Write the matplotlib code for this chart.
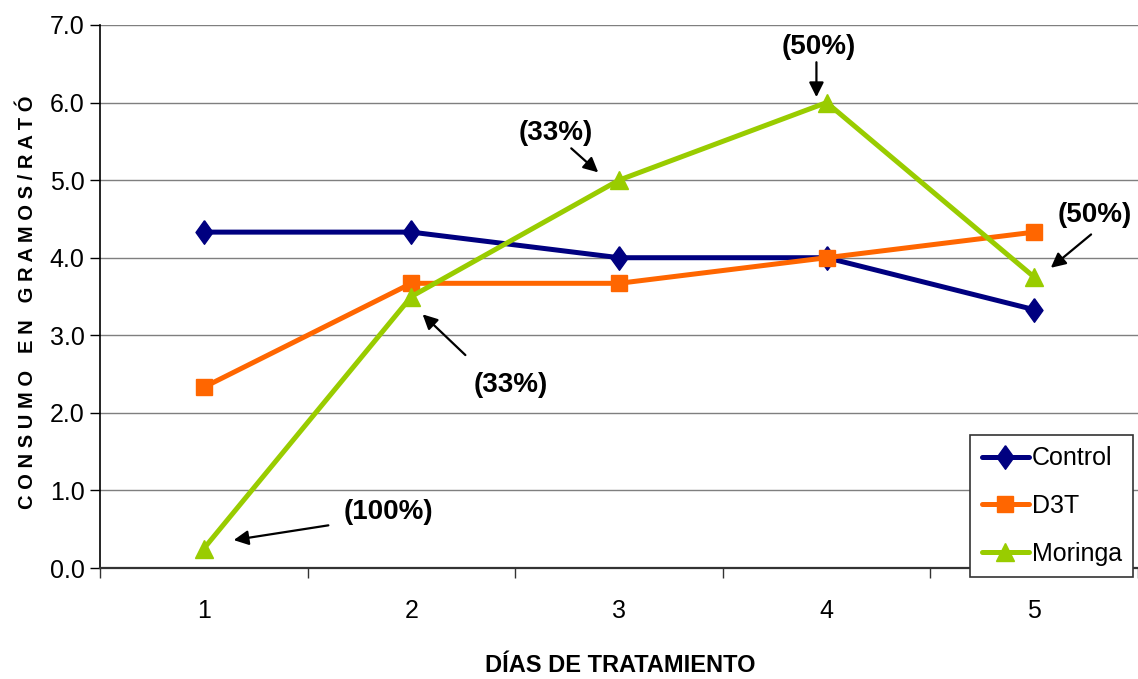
import matplotlib
matplotlib.use("Agg")
import matplotlib.pyplot as plt
from matplotlib.ticker import FixedLocator, FormatStrFormatter

# Consumption data per treatment day
dias = [1, 2, 3, 4, 5]
control = [4.33, 4.33, 4.0, 4.0, 3.33]
d3t = [2.33, 3.67, 3.67, 4.0, 4.33]
moringa = [0.25, 3.5, 5.0, 6.0, 3.75]

# Percentage notes on the Moringa series: (label, text pos, arrow start, arrow tip)
notas = [
    ("(100%)", (1.89, 0.72), (1.60, 0.55), (1.144, 0.36)),
    ("(33%)", (2.478, 2.36), (2.26, 2.745), (2.054, 3.27)),
    ("(33%)", (2.694, 5.61), (2.77, 5.41), (2.90, 5.10)),
    ("(50%)", (3.96, 6.71), (3.951, 6.52), (3.951, 6.07)),
    ("(50%)", (5.294, 4.55), (5.274, 4.30), (5.08, 3.87)),
]

SANS = ["Liberation Sans", "DejaVu Sans"]
plt.rcParams["font.family"] = SANS

# slightly tall diamond marker
rombo = [(0, 1), (0.72, 0), (0, -1), (-0.72, 0), (0, 1)]

fig = plt.figure(figsize=(11.38, 6.79), dpi=100)
ax = fig.add_axes([100 / 1138, 1 - 568 / 679, 1 - 100 / 1138, (568 - 25) / 679])

ax.plot(dias, control, color="#000080", lw=3.6, marker=rombo, ms=17,
        label="Control", zorder=4, solid_capstyle="round")
ax.plot(dias, d3t, color="#FF6600", lw=3.6, marker="s", ms=11,
        label="D3T", zorder=5, solid_capstyle="round")
ax.plot(dias, moringa, color="#99CC00", lw=3.6, marker="^", ms=13,
        label="Moringa", zorder=6, solid_capstyle="round")

ax.set_xlim(0.5, 5.5)
ax.set_ylim(0, 7)
ax.yaxis.set_major_locator(FixedLocator([0, 1, 2, 3, 4, 5, 6, 7]))
ax.yaxis.set_major_formatter(FormatStrFormatter("%.1f"))
ax.set_xticks(dias)
ax.set_xticks([0.5, 1.5, 2.5, 3.5, 4.5, 5.5], minor=True)
ax.tick_params(axis="x", which="major", length=0, pad=22, labelsize=18)
ax.tick_params(axis="x", which="minor", length=7, width=1, color="#333333")
ax.tick_params(axis="y", which="major", length=7, width=1, labelsize=18, pad=4)

ax.grid(axis="y", color="#7f7f7f", lw=1)
ax.set_axisbelow(True)
for s in ("top", "right"):
    ax.spines[s].set_visible(False)
ax.spines["left"].set_color("black")
ax.spines["left"].set_linewidth(1.2)
ax.spines["bottom"].set_color("#333333")
ax.spines["bottom"].set_linewidth(1.6)

for texto, pos, ini, fin in notas:
    ax.text(pos[0], pos[1], texto, ha="center", va="center",
            fontsize=20, fontweight="bold", zorder=8)
    ax.annotate("", xy=fin, xytext=ini,
                arrowprops=dict(arrowstyle="-|>", color="black", lw=1.6,
                                mutation_scale=22, shrinkA=0, shrinkB=0),
                zorder=8)

fig.text(620 / 1138, 1 - 665 / 679, "DÍAS DE TRATAMIENTO", ha="center", va="center",
         fontsize=17, fontweight="bold")
fig.text(28 / 1138, 1 - 302 / 679, "C O N S U M O   E N   G R A M O S / R A T Ó",
         ha="center", va="center", rotation=90, fontsize=14.5, fontweight="bold")

leg = ax.legend(loc="lower right", frameon=True, fancybox=False,
                edgecolor="#333333", framealpha=1, handlelength=1.9,
                prop={"size": 18}, borderpad=0.45,
                labelspacing=0.95, handletextpad=0.1, borderaxespad=0)
leg.get_frame().set_linewidth(1.2)
leg.set_bbox_to_anchor((1133 / 1138, 1 - 577 / 679), transform=fig.transFigure)
leg.set_zorder(10)

fig.savefig("out.png", dpi=100)
